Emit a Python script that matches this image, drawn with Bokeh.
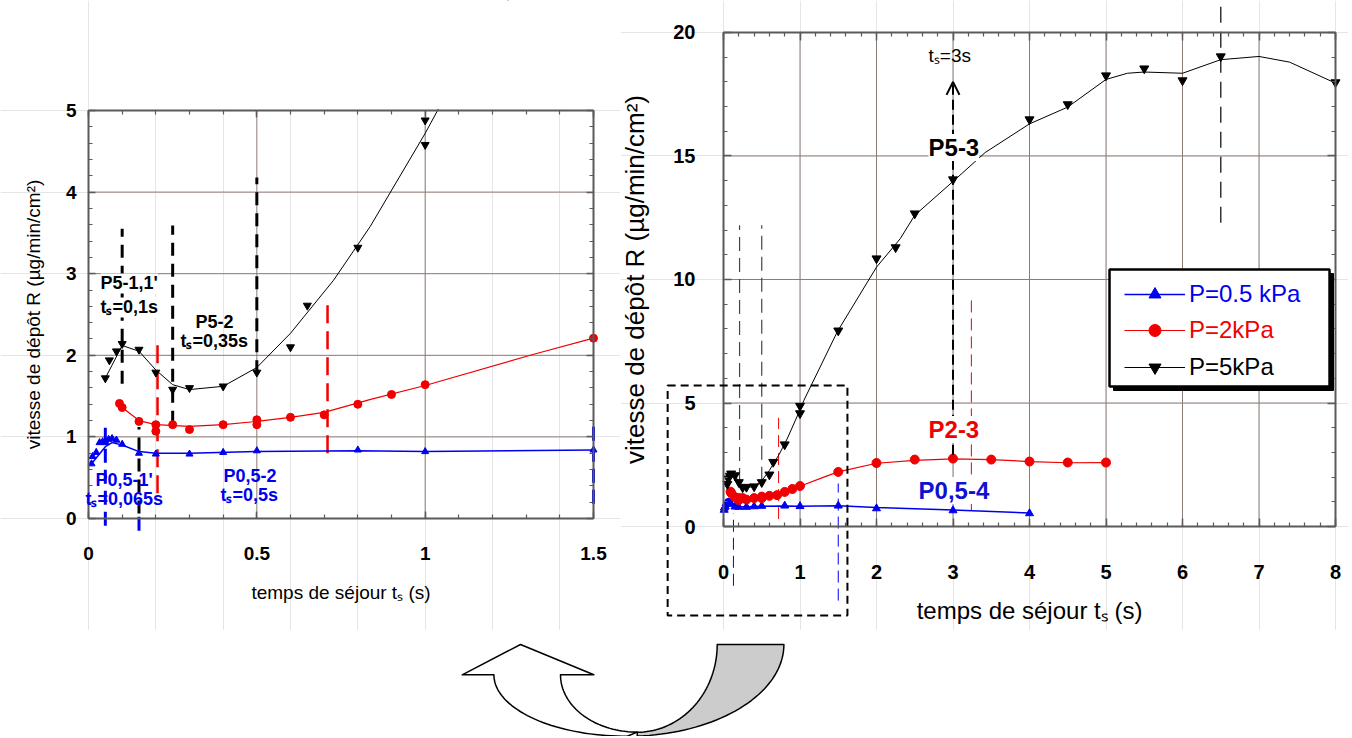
import numpy as np
from bokeh.plotting import figure
from bokeh.layouts import row, column
from bokeh.models import (LinearAxis, FixedTicker, Range1d, Label, Legend, LegendItem,
                          BoxAnnotation, Arrow, OpenHead)
from bokeh.embed import file_html
from bokeh.resources import INLINE

# P = 0.5 kPa  (blue, triangles)
t_p05 = [0.009, 0.012, 0.023, 0.033, 0.042, 0.052, 0.06, 0.07, 0.083, 0.1, 0.15, 0.2,
         0.3, 0.4, 0.5, 0.8, 1.0, 1.5, 2.0, 3.0, 4.0]
r_p05 = [0.67, 0.76, 0.81, 0.93, 0.94, 0.93, 0.97, 0.98, 0.96, 0.91, 0.80, 0.79,
         0.79, 0.81, 0.83, 0.84, 0.82, 0.84, 0.73, 0.65, 0.53]
# drawn trend curve
ct_p05 = [0.009, 0.05, 0.07, 0.1, 0.15, 0.2, 0.3, 0.5, 0.8, 1.0, 1.5, 2.0, 3.0, 4.0]
cr_p05 = [0.67, 0.88, 0.93, 0.90, 0.82, 0.80, 0.80, 0.82, 0.83, 0.82, 0.84, 0.77, 0.67, 0.55]

# P = 2 kPa  (red, circles)
t_p2 = [0.092, 0.1, 0.15, 0.2, 0.2, 0.25, 0.3, 0.4, 0.5, 0.5, 0.6, 0.7, 0.8, 0.9, 1.0,
        1.5, 2.0, 2.5, 3.0, 3.5, 4.0, 4.5, 5.0]
r_p2 = [1.41, 1.36, 1.19, 1.15, 1.07, 1.15, 1.09, 1.15, 1.21, 1.15, 1.24, 1.27, 1.40, 1.52, 1.64,
        2.21, 2.57, 2.71, 2.75, 2.71, 2.63, 2.59, 2.59]
ct_p2 = [0.09, 0.1, 0.15, 0.2, 0.3, 0.4, 0.5, 0.6, 0.7, 0.838, 1.0, 1.32, 1.5, 2.0, 2.5,
         3.0, 3.5, 4.0, 4.5, 5.0]
cr_p2 = [1.41, 1.36, 1.20, 1.15, 1.13, 1.15, 1.19, 1.24, 1.30, 1.46, 1.63, 2.01, 2.21, 2.56, 2.68,
         2.74, 2.71, 2.63, 2.58, 2.59]

# P = 5 kPa  (black, inverted triangles)
t_p5 = [0.05, 0.062, 0.083, 0.1, 0.15, 0.2, 0.25, 0.3, 0.4, 0.5, 0.6, 0.65, 0.8, 1.0, 1.0,
        1.5, 2.0, 2.25, 2.5, 3.0, 4.0, 4.5, 5.0, 5.5, 6.0, 6.5, 8.0]
r_p5 = [1.72, 1.94, 2.05, 2.14, 2.07, 1.79, 1.58, 1.60, 1.62, 1.79, 2.10, 2.61, 3.32, 4.88, 4.58,
        7.93, 10.85, 11.30, 12.67, 14.05, 16.48, 17.09, 18.26, 18.54, 18.06, 19.03, 17.98]
ct_p5 = [0.05, 0.1, 0.15, 0.2, 0.25, 0.3, 0.4, 0.5, 0.6, 0.728, 0.837, 1.0, 1.05, 1.49, 2.0,
         2.31, 2.5, 3.0, 3.42, 4.0, 4.5, 5.0, 5.28, 5.5, 6.0, 6.5, 7.0, 7.4, 8.0]
cr_p5 = [1.72, 2.12, 2.05, 1.82, 1.64, 1.58, 1.62, 1.85, 2.27, 2.92, 3.58, 4.72, 5.10, 7.90, 10.50,
         11.65, 12.60, 13.97, 15.14, 16.30, 16.98, 18.10, 18.35, 18.40, 18.35, 18.90, 19.03, 18.80, 17.95]

series_names = ["P=0.5 kPa", "P=2kPa", "P=5kPa"]

# ---------------- ticks ----------------
left_xticks = [0, 0.5, 1, 1.5]
left_xlabels = ["0", "0.5", "1", "1.5"]
left_yticks = [0, 1, 2, 3, 4, 5]
left_ylabels = ["0", "1", "2", "3", "4", "5"]
right_xticks = [0, 1, 2, 3, 4, 5, 6, 7, 8]
right_xlabels = ["0", "1", "2", "3", "4", "5", "6", "7", "8"]
right_yticks = [0, 5, 10, 15, 20]
right_ylabels = ["0", "5", "10", "15", "20"]

# ---------------- vertical marker lines : ts, lower R, upper R ----------------
lk_t, lk_lo, lk_hi = [0.1, 0.25, 0.5, 0.15], [1.65, 1.16, 1.78, 0.06], [3.55, 3.59, 4.18, 1.12]
lr_t, lr_lo, lr_hi = [0.205, 0.71], [0.31, 0.80], [2.20, 2.67]
lb_t, lb_lo, lb_hi = [0.05, 0.15, 1.5], [-0.09, -0.15, 0.18], [1.18, 0.06, 1.19]
rg_t, rg_lo, rg_hi = [0.21, 0.5], [1.80, 1.85], [12.2, 12.2]
rk_t, rk_lo, rk_hi = [6.5], [12.3], [21.3]
rr_t, rr_lo, rr_hi = [0.72, 3.24], [0.30, 0.65], [4.40, 9.27]
rb_t, rb_lo, rb_hi = [0.13, 1.5], [-2.4, -3.0], [0.53, 1.74]

FONT = "Liberation Sans"
BLUE = "#0000f0"
RED = "#f00000"
BLACK = "#000000"
GRID = "#8c7c76"
AXC = "#5a5a5a"


def base_fig(fw, fh, xr, yr, ml, mr, mt, mb):
    p = figure(frame_width=fw, frame_height=fh, x_range=Range1d(*xr), y_range=Range1d(*yr),
               x_axis_location=None, y_axis_location=None,
               min_border_left=ml, min_border_right=mr, min_border_top=mt, min_border_bottom=mb,
               toolbar_location=None, output_backend="svg")
    p.outline_line_color = None
    p.background_fill_color = "white"
    p.border_fill_color = "white"
    return p


def add_axes(p, xt, xl, xminor, yt, yl, yminor, tick_fs, xlab_fs, ylab_fs, xstand, ystand,
             xlst, ylst, maj_in, min_in, xlabel, ylabel):
    x0, x1 = xt[0], xt[-1]
    y0, y1 = yt[0], yt[-1]
    common = dict(axis_line_color=AXC, axis_line_width=2,
                  major_tick_line_color=AXC, major_tick_line_width=1.5,
                  minor_tick_line_color=AXC, minor_tick_line_width=1.2,
                  major_tick_in=maj_in, major_tick_out=0, minor_tick_in=min_in, minor_tick_out=0,
                  major_label_text_font=FONT, major_label_text_font_style="bold",
                  major_label_text_font_size=tick_fs, major_label_text_color="black",
                  axis_label_text_font=FONT, axis_label_text_font_style="normal",
                  axis_label_text_color="black")
    b = LinearAxis(ticker=FixedTicker(ticks=xt, minor_ticks=xminor), bounds=(x0, x1),
                   fixed_location=y0, major_label_overrides=dict(zip(xt, xl)),
                   major_label_standoff=xstand, axis_label=xlabel, axis_label_standoff=xlst,
                   axis_label_text_font_size=xlab_fs, **common)
    l = LinearAxis(ticker=FixedTicker(ticks=yt, minor_ticks=yminor), bounds=(y0, y1),
                   fixed_location=x0, major_label_overrides=dict(zip(yt, yl)),
                   major_label_standoff=ystand, axis_label=ylabel, axis_label_standoff=ylst,
                   axis_label_text_font_size=ylab_fs, **common)
    a = LinearAxis(ticker=FixedTicker(ticks=xt, minor_ticks=xminor), bounds=(x0, x1),
                   fixed_location=y1, **common)
    a.major_label_text_color = None
    r = LinearAxis(ticker=FixedTicker(ticks=yt, minor_ticks=yminor), bounds=(y0, y1),
                   fixed_location=x1, **common)
    r.major_label_text_color = None
    p.add_layout(b, "below")
    p.add_layout(l, "left")
    p.add_layout(a, "above")
    p.add_layout(r, "right")
    # grid lines (inner ticks only)
    xg = [v for v in xt if v not in (x0, x1)]
    yg = [v for v in yt if v not in (y0, y1)]
    p.segment(x0=xg, y0=[y0] * len(xg), x1=xg, y1=[y1] * len(xg), line_color=GRID, line_width=1)
    p.segment(x0=[x0] * len(yg), y0=yg, x1=[x1] * len(yg), y1=yg, line_color=GRID, line_width=1)


def marks(p, t, lo, hi, color, width, dash):
    p.segment(x0=t, y0=lo, x1=t, y1=hi, line_color=color, line_width=width, line_dash=dash)


def upto(ts, rs, tmax):
    keep = [i for i, t in enumerate(ts) if t <= tmax]
    return [ts[i] for i in keep], [rs[i] for i in keep]


def series(p, ct, cr, t, r, color, marker, size, lw, tmax=None):
    if tmax is not None:
        ct, cr = upto(ct, cr, tmax)
        t, r = upto(t, r, tmax)
    ln = p.line(ct, cr, line_color=color, line_width=lw)
    sc = p.scatter(t, r, marker=marker, size=size, fill_color=color, line_color=color)
    return [ln, sc]


def lab(p, x, y, text, color, size, bold=True, bg=None):
    p.add_layout(Label(x=x, y=y, text=text, text_color=color, text_font=FONT,
                       text_font_size=size, text_font_style="bold" if bold else "normal",
                       text_baseline="middle", text_align="left",
                       background_fill_color=bg))


XLAB = "temps de séjour tₛ (s)"
YLAB = "vitesse de dépôt R (µg/min/cm²)"
PAGE_H = 630

# ======================= left chart =======================
# frame covers the whole figure; R=0 at y=518 px, R=5 at y=110 px ; ts=0 at x=88, 1.5 at x=593
lp = base_fig(620, PAGE_H, (-0.26138, 1.5802), (-1.3725, 6.348), 0, 0, 0, 0)
add_axes(lp, left_xticks, left_xlabels, [round(0.1 * k, 2) for k in range(16)],
         left_yticks, left_ylabels, [round(0.2 * k, 2) for k in range(26)],
         "19px", "19px", "19px", 28, 12, 19, 19, 7, 4, XLAB, YLAB)
marks(lp, lk_t, lk_lo, lk_hi, BLACK, 3, "13 8")
marks(lp, lr_t, lr_lo, lr_hi, RED, 2.5, "18 8")
marks(lp, lb_t, lb_lo, lb_hi, BLUE, 3, "14 7")
TMAX_LEFT = 1.5
series(lp, ct_p05, cr_p05, t_p05, r_p05, BLUE, "triangle", 7, 1.5, TMAX_LEFT)
series(lp, ct_p2, cr_p2, t_p2, r_p2, RED, "circle", 8, 1.2, TMAX_LEFT)
series(lp, ct_p5, cr_p5, t_p5, r_p5, BLACK, "inverted_triangle", 8, 1, TMAX_LEFT)
# hide what lies above the top of the left plot box (R > 5)
lp.add_layout(BoxAnnotation(left=0.004, right=1.5802, bottom=5.0 + 1.6 / 81.6, top=6.348,
                            fill_color="white", fill_alpha=1, line_alpha=0))
lab(lp, 0.0356, 2.88, "P5-1,1'", BLACK, "18px", bg="white")
lab(lp, 0.0356, 2.586, "tₛ=0,1s", BLACK, "18px", bg="white")
lab(lp, 0.318, 2.414, "P5-2", BLACK, "18px")
lab(lp, 0.273, 2.18, "tₛ=0,35s", BLACK, "18px")
lab(lp, 0.021, 0.466, "P0,5-1'", BLUE, "18px")
lab(lp, -0.009, 0.245, "tₛ=0,065s", BLUE, "18px")
lab(lp, 0.401, 0.515, "P0,5-2", BLUE, "18px")
lab(lp, 0.392, 0.282, "tₛ=0,5s", BLUE, "18px")

# ======================= right chart =======================
# R=0 at y=526 px, R=20 at y=32 px ; ts=0 at x=723 px, ts=8 at x=1335 px
rp = base_fig(728, PAGE_H, (-1.3464, 8.1699), (-4.2105, 21.2955), 0, 0, 0, 0)
add_axes(rp, right_xticks, right_xlabels, [round(0.2 * k, 2) for k in range(41)],
         right_yticks, right_ylabels, list(range(21)),
         "20px", "24px", "26px", 38, 28, 15, 20, 8, 4, XLAB, YLAB)
marks(rp, rg_t, rg_lo, rg_hi, "#444444", 1.2, "14 7")
marks(rp, rk_t, rk_lo, rk_hi, "#333333", 1.5, "16 9")
marks(rp, rr_t, rr_lo, rr_hi, RED, 1, "12 6")
marks(rp, rb_t, rb_lo, rb_hi, BLUE, 1, "12 6")
rp.add_layout(BoxAnnotation(left=-0.73, right=1.62, bottom=-3.6, top=5.71, fill_alpha=0,
                            line_color="black", line_alpha=1, line_width=2, line_dash="8 5"))
rb = series(rp, ct_p05, cr_p05, t_p05, r_p05, BLUE, "triangle", 8, 1.5)
rr = series(rp, ct_p2, cr_p2, t_p2, r_p2, RED, "circle", 9, 1.2)
rk = series(rp, ct_p5, cr_p5, t_p5, r_p5, BLACK, "inverted_triangle", 9, 1)
rp.add_layout(Arrow(end=OpenHead(size=13, line_width=2, line_color="black"),
                    x_start=3.0, y_start=2.9, x_end=3.0, y_end=18.0,
                    line_width=2, line_dash="10 5", line_color="black"))
lab(rp, 2.68, 19.07, "tₛ=3s", BLACK, "19px", bold=False)
lab(rp, 2.68, 15.34, "P5-3", BLACK, "24px", bg="white")
lab(rp, 2.68, 3.93, "P2-3", RED, "24px", bg="white")
lab(rp, 2.55, 1.46, "P0,5-4", "#1010d0", "24px", bg="white")

# legend frame (with shadow)
rp.add_layout(BoxAnnotation(left=5.098, right=7.974, bottom=5.506, top=10.24,
                            fill_color="black", fill_alpha=1, line_color="black", line_alpha=1))
rp.add_layout(BoxAnnotation(left=5.046, right=7.922, bottom=5.668, top=10.40,
                            fill_color="white", fill_alpha=1, line_color="black",
                            line_alpha=1, line_width=2.5))
for name, color, rends, yoff in zip(series_names, [BLUE, RED, BLACK], [rb, rr, rk], [321, 285, 248]):
    leg = Legend(items=[LegendItem(label=name, renderers=rends)], location=(504, yoff),
                 label_text_color=color, label_text_font=FONT, label_text_font_size="24px",
                 glyph_width=61, glyph_height=30, label_height=30, label_standoff=4,
                 padding=0, margin=0, spacing=0, border_line_color=None,
                 background_fill_alpha=0)
    rp.add_layout(leg)

# ======================= curved arrow =======================
ap = figure(width=1348, height=106, x_range=Range1d(0, 1348), y_range=Range1d(736, 630),
            x_axis_location=None, y_axis_location=None, min_border=0,
            toolbar_location=None, output_backend="svg")
ap.outline_line_color = None
ap.grid.visible = False


def arc(cx, cy, rx, ry, a0, a1, n=40):
    th = np.radians(np.linspace(a0, a1, n))
    return list(cx + rx * np.cos(th)), list(cy - ry * np.sin(th))


ix, iy = arc(636.7, 674.3, 76.7, 57.3, 180, 270)
ox, oy = arc(626.7, 674.3, 133.3, 61.5, 270, 180)
wx = [461.7, 520.0, 593.3] + ix + ox
wy = [674.3, 644.0, 674.3] + iy + oy
ap.patch(wx, wy, fill_color="white", line_color="black", line_width=1.5, line_join="round")
gx0, gy0 = arc(626.7, 644.0, 156.7, 91.8, 360, 273.7)
gx1, gy1 = arc(636.7, 644.0, 80.0, 87.7, 270, 360)
ap.patch([716.7] + gx0 + gx1, [644.0] + gy0 + gy1, fill_color="#cccccc", line_color="black",
         line_width=1.5, line_join="round")

layout = column(row(lp, rp), ap)
open("out.html", "w").write(file_html(layout, INLINE))
